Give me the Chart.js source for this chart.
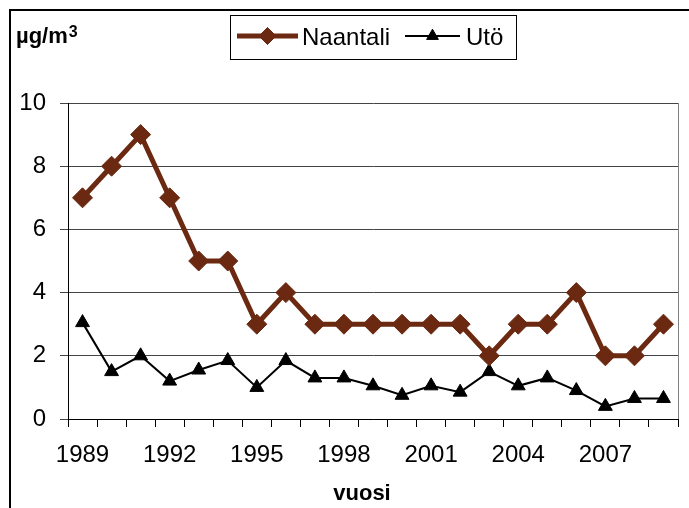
<!DOCTYPE html>
<html>
<head>
<meta charset="utf-8">
<title>Naantali / Utö</title>
<script src="https://cdn.jsdelivr.net/npm/chart.js@4/dist/chart.umd.min.js"></script>
<style>
  html, body { margin: 0; padding: 0; background: #fff; }
  #wrap { width: 689px; height: 508px; }
</style>
</head>
<body>
<div id="wrap"><canvas id="chart" width="689" height="508"></canvas></div>
<script>
// Annual means, µg/m3
const years = ['1989', '1990', '1991', '1992', '1993', '1994', '1995', '1996', '1997', '1998', '1999',
               '2000', '2001', '2002', '2003', '2004', '2005', '2006', '2007', '2008', '2009'];
const naantali = [7, 8, 9, 7, 5, 5, 3, 4, 3, 3, 3, 3, 3, 3, 2, 3, 3, 4, 2, 2, 3];
const uto = [3.05, 1.5, 2.0, 1.2, 1.55, 1.85, 1.0, 1.85, 1.3, 1.3, 1.05,
             0.75, 1.05, 0.85, 1.5, 1.05, 1.3, 0.9, 0.4, 0.65, 0.65];
const shownYears = ['1989', '1992', '1995', '1998', '2001', '2004', '2007'];
const yTicks = [0, 2, 4, 6, 8, 10];

const brown = '#6b2912';
const font = 'Liberation Sans, Arial, sans-serif';

// Outer frame, right edge of the plot, unit label, axis title and boxed legend
const decorations = {
  id: 'decorations',
  beforeDraw(chart) {
    const ctx = chart.ctx;
    ctx.save();
    ctx.fillStyle = '#fff';
    ctx.fillRect(0, 0, chart.width, chart.height);
    ctx.fillStyle = '#000';
    ctx.fillRect(9, 9, 2, chart.height - 9);
    ctx.fillRect(9, 9, chart.width - 9, 2);
    ctx.restore();
  },
  afterDraw(chart) {
    const ctx = chart.ctx;
    const area = chart.chartArea;
    ctx.save();

    // right edge of plot area
    ctx.strokeStyle = '#808080';
    ctx.lineWidth = 1;
    ctx.beginPath();
    ctx.moveTo(area.right + 0.5, area.top);
    ctx.lineTo(area.right + 0.5, area.bottom);
    ctx.stroke();

    // unit label
    ctx.fillStyle = '#000';
    ctx.textBaseline = 'alphabetic';
    ctx.textAlign = 'left';
    ctx.font = 'bold 22px ' + font;
    ctx.fillText('µg/m', 16, 43);
    const w = ctx.measureText('µg/m').width;
    ctx.font = 'bold 16px ' + font;
    ctx.fillText('3', 16 + w + 1, 37);

    // x axis title
    ctx.font = 'bold 22px ' + font;
    ctx.textAlign = 'center';
    ctx.fillText('vuosi', 362, 500);

    // legend box
    ctx.strokeStyle = '#000';
    ctx.lineWidth = 1;
    ctx.strokeRect(230.5, 15.5, 286, 44);

    const ly = 36;
    const sets = chart.data.datasets;
    const items = [
      { ds: sets[0], x0: 237, x1: 298, tx: 302 },
      { ds: sets[1], x0: 405, x1: 460, tx: 466 }
    ];
    items.forEach(it => {
      ctx.strokeStyle = it.ds.borderColor;
      ctx.lineWidth = it.ds.borderWidth;
      ctx.beginPath();
      ctx.moveTo(it.x0, ly);
      ctx.lineTo(it.x1, ly);
      ctx.stroke();
      ctx.fillStyle = it.ds.pointBackgroundColor;
      ctx.strokeStyle = it.ds.pointBorderColor;
      ctx.lineWidth = 1;
      Chart.helpers.drawPoint(ctx, {
        pointStyle: it.ds.pointStyle,
        radius: it.ds.pointRadius * 0.85,
        rotation: 0,
        borderWidth: 1
      }, (it.x0 + it.x1) / 2, ly);
      ctx.fillStyle = '#000';
      ctx.font = '24px ' + font;
      ctx.textAlign = 'left';
      ctx.fillText(it.ds.label, it.tx, 45);
    });

    ctx.restore();
  }
};

new Chart(document.getElementById('chart'), {
  type: 'line',
  data: {
    labels: years,
    datasets: [{
      label: 'Naantali',
      data: naantali,
      borderColor: brown,
      borderWidth: 5,
      pointStyle: 'rectRot',
      pointRadius: 10,
      pointBackgroundColor: brown,
      pointBorderColor: brown,
      pointBorderWidth: 1,
      tension: 0
    }, {
      label: 'Utö',
      data: uto,
      borderColor: '#000',
      borderWidth: 2,
      pointStyle: 'triangle',
      pointRadius: 8,
      pointBackgroundColor: '#000',
      pointBorderColor: '#000',
      pointBorderWidth: 1,
      tension: 0
    }]
  },
  options: {
    responsive: false,
    devicePixelRatio: 1,
    animation: false,
    layout: { padding: { top: 103, right: 7, left: 0, bottom: 0 } },
    plugins: {
      legend: { display: false },
      tooltip: { enabled: false }
    },
    scales: {
      x: {
        type: 'category',
        offset: true,
        afterFit(scale) { scale.height = 89; },
        grid: {
          offset: true,
          drawOnChartArea: false,
          tickLength: 8,
          color: '#000'
        },
        border: { color: '#000', width: 1 },
        ticks: {
          autoSkip: false,
          maxRotation: 0,
          padding: 14,
          color: '#000',
          font: { family: font, size: 24 },
          callback(value, index) {
            const y = years[index];
            return shownYears.includes(y) ? y : '';
          }
        }
      },
      y: {
        min: yTicks[0],
        max: yTicks[yTicks.length - 1],
        afterFit(scale) { scale.width = 68; },
        afterBuildTicks(scale) { scale.ticks = yTicks.map(v => ({ value: v })); },
        grid: { color: '#444', tickLength: 8 },
        border: { color: '#000', width: 1 },
        ticks: {
          padding: 14,
          color: '#000',
          font: { family: font, size: 24 }
        }
      }
    }
  },
  plugins: [decorations]
});
</script>
</body>
</html>
